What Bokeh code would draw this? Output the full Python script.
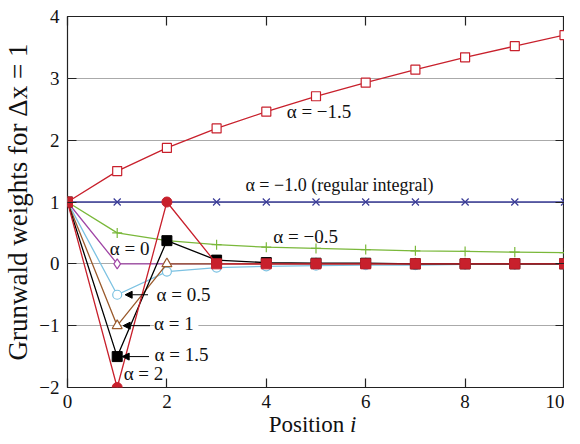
from bokeh.plotting import figure
from bokeh.layouts import column
from bokeh.models import (LinearAxis, Label, Arrow, NormalHead, FixedTicker,
                          CustomJSTickFormatter, Div)
from bokeh.embed import file_html
from bokeh.resources import INLINE

# ---- data ----
positions = [0, 1, 2, 3, 4, 5, 6, 7, 8, 9, 10]
w_alpha_m15 = [1.0, 1.5, 1.875, 2.19, 2.46, 2.71, 2.93, 3.14, 3.34, 3.52, 3.70]
w_alpha_m10 = [1.0, 1.0, 1.0, 1.0, 1.0, 1.0, 1.0, 1.0, 1.0, 1.0, 1.0]
w_alpha_m05 = [1.0, 0.5, 0.375, 0.31, 0.27, 0.25, 0.23, 0.21, 0.20, 0.19, 0.18]
w_alpha_0 = [1.0, 0.0, 0.0, 0.0, 0.0, 0.0, 0.0, 0.0, 0.0, 0.0, 0.0]
w_alpha_05 = [1.0, -0.5, -0.125, -0.06, -0.04, -0.03, -0.02, -0.02, -0.01, -0.01, -0.01]
w_alpha_1 = [1.0, -1.0, 0.0, 0.0, 0.0, 0.0, 0.0, 0.0, 0.0, 0.0, 0.0]
w_alpha_15 = [1.0, -1.5, 0.375, 0.06, 0.02, 0.01, 0.01, 0.0, 0.0, 0.0, 0.0]
w_alpha_2 = [1.0, -2.0, 1.0, 0.0, 0.0, 0.0, 0.0, 0.0, 0.0, 0.0, 0.0]

x_ticks = [0, 2, 4, 6, 8, 10]
y_ticks = [-2, -1, 0, 1, 2, 3, 4]

RED = "#c8202c"
BLUE = "#3a3c98"
GREEN = "#7ab83a"
PURPLE = "#a046a6"
LBLUE = "#7cc2e2"
BROWN = "#9a5a2c"
BLACK = "#000000"
FONT = "Liberation Serif"

p = figure(width=564, height=418, x_range=(0, 10), y_range=(-2, 4),
           output_backend="svg", toolbar_location=None,
           min_border_left=59, min_border_right=0, min_border_top=16,
           min_border_bottom=31)
p.background_fill_color = "white"
p.border_fill_color = "white"
p.outline_line_color = "#222222"
p.outline_line_width = 1.2

p.xgrid.visible = False
p.ygrid.ticker = FixedTicker(ticks=[-1, 0, 1, 2, 3])
p.ygrid.grid_line_color = "#aaaaaa"
p.ygrid.grid_line_width = 1

def style_axis(ax, ticks, show_labels=True):
    ax.ticker = FixedTicker(ticks=ticks)
    ax.axis_line_color = None
    ax.major_tick_in = 9
    ax.major_tick_out = 0
    ax.minor_tick_in = 0
    ax.minor_tick_out = 0
    ax.major_tick_line_color = "#222222"
    ax.major_tick_line_width = 1.2
    if show_labels:
        ax.major_label_text_font = FONT
        ax.major_label_text_font_size = "19px"
        ax.major_label_text_color = "#111111"
    else:
        ax.formatter = CustomJSTickFormatter(code="return '';")
        ax.major_label_standoff = 0

xa = p.xaxis[0]
ya = p.yaxis[0]
style_axis(xa, x_ticks)
style_axis(ya, y_ticks)
xa.major_label_standoff = 7
ya.major_label_standoff = 8
ya.formatter = CustomJSTickFormatter(code="return tick < 0 ? '\u2212' + Math.abs(tick) : '' + tick;")
ya.axis_label = "Grunwald weights for \u0394x = 1"
ya.axis_label_text_font = FONT
ya.axis_label_text_font_size = "27px"
ya.axis_label_text_font_style = "normal"
ya.axis_label_text_color = "#111111"
ya.axis_label_standoff = 3
xa.axis_label = None

top_ax = LinearAxis()
style_axis(top_ax, x_ticks, show_labels=False)
p.add_layout(top_ax, "above")
right_ax = LinearAxis()
style_axis(right_ax, y_ticks, show_labels=False)
p.add_layout(right_ax, "right")

LW = 1.3
# alpha = -1.5
p.line(positions, w_alpha_m15, line_color=RED, line_width=LW)
p.scatter(positions, w_alpha_m15, marker="square", size=9, fill_color="white",
          line_color=RED, line_width=1.2)
# alpha = -1.0
p.line(positions, w_alpha_m10, line_color=BLUE, line_width=LW)
p.scatter(positions, w_alpha_m10, marker="x", size=10, line_color=BLUE, line_width=1.2)
# alpha = -0.5
p.line(positions, w_alpha_m05, line_color=GREEN, line_width=LW)
p.scatter(positions, w_alpha_m05, marker="cross", size=10, line_color=GREEN, line_width=1.2)
# alpha = 0
p.line(positions, w_alpha_0, line_color=PURPLE, line_width=LW)
p.scatter(positions, w_alpha_0, marker="diamond", size=10, fill_color="white",
          line_color=PURPLE, line_width=1.2)
# alpha = 0.5
p.line(positions, w_alpha_05, line_color=LBLUE, line_width=LW)
p.scatter(positions, w_alpha_05, marker="circle", size=9, fill_color="white",
          line_color=LBLUE, line_width=1.2)
# alpha = 1
p.line(positions, w_alpha_1, line_color=BROWN, line_width=LW)
p.scatter(positions, w_alpha_1, marker="triangle", size=10, fill_color="white",
          line_color=BROWN, line_width=1.2)
# alpha = 1.5
p.line(positions, w_alpha_15, line_color=BLACK, line_width=LW)
p.scatter(positions, w_alpha_15, marker="square", size=10, fill_color=BLACK,
          line_color=BLACK)
# alpha = 2
p.line(positions, w_alpha_2, line_color=RED, line_width=LW)
sq_x = [positions[0]] + positions[3:]
sq_y = [w_alpha_2[0]] + w_alpha_2[3:]
p.scatter(sq_x, sq_y, marker="square", size=10, fill_color=RED, line_color=RED)
p.scatter(positions[1:3], w_alpha_2[1:3], marker="circle", size=10, fill_color=RED,
          line_color=RED)

def lab(x, y, t, bg=None, size="19px"):
    kw = {}
    if bg:
        kw = dict(background_fill_color=bg, border_line_color=None)
    p.add_layout(Label(x=x, y=y, text=t, text_font=FONT, text_font_size=size,
                       text_align="left", text_baseline="middle",
                       text_color="#111111", **kw))

lab(4.41, 2.47, "\u03b1 = \u22121.5")
lab(3.58, 1.28, "\u03b1 = \u22121.0 (regular integral)", size="18px")
lab(4.14, 0.45, "\u03b1 = \u22120.5")
lab(0.85, 0.24, "\u03b1 = 0")
lab(1.79, -0.49, "\u03b1 = 0.5")
lab(1.74, -0.97, "\u03b1 = 1 ", bg="white")
lab(1.75, -1.46, "\u03b1 = 1.5")
lab(1.13, -1.78, "\u03b1 = 2")

for (x0, x1, yy) in [(1.62, 1.16, -0.5), (1.66, 1.12, -1.0), (1.64, 1.10, -1.5)]:
    p.add_layout(Arrow(end=NormalHead(size=7, fill_color=BLACK, line_color=BLACK),
                       x_start=x0, y_start=yy, x_end=x1, y_end=yy,
                       line_color=BLACK, line_width=1))

xlabel = Div(
    text=('<div style="font-family: \'Liberation Serif\', serif; font-size: 23px; '
          'line-height: 24px; color: #111111; text-align: center; width: 497px; '
          'margin-left: 59px; position: relative; top: -10px;">'
          'Position <i>i</i></div>'),
    width=564, height=24)

layout = column(p, xlabel, spacing=0)
open("out.html", "w").write(file_html(layout, INLINE))
